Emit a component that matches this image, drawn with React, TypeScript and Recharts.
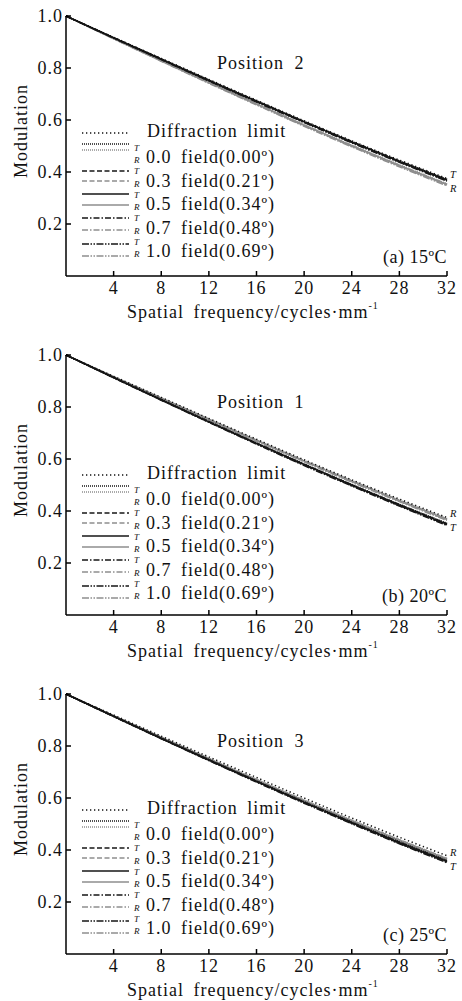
import { LineChart, Line, XAxis, YAxis } from "recharts";

const FONT = "'Liberation Serif', 'Times New Roman', serif";

// spatial frequency samples (cycles/mm)
const freq = [0, 4, 8, 12, 16, 20, 24, 28, 32];
const xTicks = [4, 8, 12, 16, 20, 24, 28, 32];
const yTicks = [0.2, 0.4, 0.6, 0.8, 1.0];

const fieldNames = ["0.0", "0.3", "0.5", "0.7", "1.0"];
const fieldAngles = ["0.00º", "0.21º", "0.34º", "0.48º", "0.69º"];

const positions = ["Position 2", "Position 1", "Position 3"];
const tags = ["(a) 15ºC", "(b) 20ºC", "(c) 25ºC"];
const endLabels = [["T", "R"], ["R", "T"], ["R", "T"]];

// (a) 15ºC
const diffA = [1.0, 0.918, 0.837, 0.756, 0.676, 0.597, 0.52, 0.446, 0.375];
const tA00 = [1.0, 0.917, 0.835, 0.754, 0.674, 0.595, 0.518, 0.443, 0.372];
const tA03 = [1.0, 0.917, 0.835, 0.753, 0.673, 0.594, 0.517, 0.442, 0.371];
const tA05 = [1.0, 0.916, 0.834, 0.752, 0.672, 0.593, 0.516, 0.441, 0.369];
const tA07 = [1.0, 0.916, 0.833, 0.751, 0.671, 0.592, 0.514, 0.439, 0.367];
const tA10 = [1.0, 0.915, 0.832, 0.75, 0.669, 0.59, 0.512, 0.437, 0.365];
const rA00 = [1.0, 0.914, 0.829, 0.745, 0.663, 0.582, 0.503, 0.428, 0.355];
const rA03 = [1.0, 0.914, 0.829, 0.745, 0.662, 0.581, 0.502, 0.426, 0.353];
const rA05 = [1.0, 0.913, 0.828, 0.744, 0.661, 0.58, 0.501, 0.425, 0.352];
const rA07 = [1.0, 0.913, 0.827, 0.743, 0.66, 0.578, 0.499, 0.423, 0.35];
const rA10 = [1.0, 0.912, 0.826, 0.741, 0.658, 0.576, 0.497, 0.42, 0.347];

// (b) 20ºC
const diffB = [1.0, 0.918, 0.837, 0.756, 0.676, 0.597, 0.52, 0.446, 0.375];
const tB00 = [1.0, 0.914, 0.829, 0.745, 0.662, 0.581, 0.502, 0.426, 0.353];
const tB03 = [1.0, 0.914, 0.828, 0.744, 0.661, 0.58, 0.501, 0.425, 0.351];
const tB05 = [1.0, 0.913, 0.828, 0.743, 0.66, 0.579, 0.5, 0.423, 0.349];
const tB07 = [1.0, 0.913, 0.827, 0.742, 0.659, 0.577, 0.498, 0.421, 0.347];
const tB10 = [1.0, 0.912, 0.826, 0.741, 0.657, 0.575, 0.496, 0.419, 0.344];
const rB00 = [1.0, 0.917, 0.835, 0.754, 0.673, 0.594, 0.517, 0.442, 0.371];
const rB03 = [1.0, 0.917, 0.834, 0.753, 0.672, 0.593, 0.516, 0.441, 0.369];
const rB05 = [1.0, 0.916, 0.834, 0.752, 0.671, 0.592, 0.515, 0.44, 0.368];
const rB07 = [1.0, 0.916, 0.833, 0.751, 0.67, 0.591, 0.513, 0.438, 0.366];
const rB10 = [1.0, 0.915, 0.832, 0.75, 0.669, 0.589, 0.511, 0.436, 0.364];

// (c) 25ºC
const diffC = [1.0, 0.919, 0.838, 0.758, 0.679, 0.6, 0.523, 0.449, 0.378];
const tC00 = [1.0, 0.915, 0.831, 0.748, 0.666, 0.586, 0.508, 0.432, 0.36];
const tC03 = [1.0, 0.915, 0.83, 0.747, 0.665, 0.584, 0.506, 0.43, 0.358];
const tC05 = [1.0, 0.914, 0.829, 0.746, 0.664, 0.583, 0.505, 0.428, 0.356];
const tC07 = [1.0, 0.914, 0.829, 0.745, 0.663, 0.582, 0.503, 0.426, 0.354];
const tC10 = [1.0, 0.913, 0.828, 0.744, 0.661, 0.58, 0.501, 0.424, 0.351];
const rC00 = [1.0, 0.917, 0.834, 0.752, 0.671, 0.592, 0.515, 0.44, 0.368];
const rC03 = [1.0, 0.916, 0.834, 0.752, 0.671, 0.591, 0.514, 0.439, 0.367];
const rC05 = [1.0, 0.916, 0.833, 0.751, 0.67, 0.59, 0.513, 0.438, 0.366];
const rC07 = [1.0, 0.916, 0.833, 0.75, 0.669, 0.589, 0.512, 0.436, 0.364];
const rC10 = [1.0, 0.915, 0.832, 0.749, 0.668, 0.588, 0.51, 0.434, 0.362];

const panels = [
  { diff: diffA, t: [tA00, tA03, tA05, tA07, tA10], r: [rA00, rA03, rA05, rA07, rA10] },
  { diff: diffB, t: [tB00, tB03, tB05, tB07, tB10], r: [rB00, rB03, rB05, rB07, rB10] },
  { diff: diffC, t: [tC00, tC03, tC05, tC07, tC10], r: [rC00, rC03, rC05, rC07, rC10] },
];

// line styles
const T_COLOR = "#161616";
const R_COLOR = "#8e8e8e";
const DIFF_DASH = "1.3 2.7";
const FIELD_DASH = ["1 1", "5 2.5", undefined, "6 2 1.5 2", "7 1.5 1.5 1.5 1.5 1.5"];

// legend layout (px inside each panel)
const LEG_T_Y = [144, 171, 194, 218, 244];
const LEG_R_Y = [150, 181, 205, 230, 256];
const LEG_TEXT_Y = [163, 186.5, 210, 233.5, 257];
const PANEL_SHIFT = [0, 3, -1];

const textStyle = { fontFamily: FONT, fontSize: 18, fill: "#111", letterSpacing: 1 };
const smallItalic = { fontFamily: FONT, fontStyle: "italic", fontSize: 10.5, fill: "#111" };
const tinyItalic = { fontFamily: FONT, fontStyle: "italic", fontSize: 9, fill: "#111" };

function Panel({ idx }: { idx: number }) {
  const p = panels[idx];
  const rows = freq.map((f, i) => {
    const row: Record<string, number> = { f, diff: p.diff[i] };
    p.t.forEach((s, k) => (row["t" + k] = s[i]));
    p.r.forEach((s, k) => (row["r" + k] = s[i]));
    return row;
  });
  const dy = PANEL_SHIFT[idx];

  return (
    <div style={{ position: "relative", width: 462, height: 339 }}>
      <LineChart width={462} height={330} data={rows} margin={{ top: 16, right: 15, left: 0, bottom: 0 }}>
        <XAxis
          dataKey="f"
          type="number"
          domain={[0, 32]}
          ticks={xTicks}
          interval={0}
          height={54}
          tickSize={-5}
          tickMargin={10}
          stroke="#000"
          strokeWidth={1.5}
          tick={{ ...textStyle }}
        />
        <YAxis
          type="number"
          domain={[0, 1]}
          ticks={yTicks}
          interval={0}
          width={66}
          tickSize={-5}
          tickMargin={8}
          stroke="#000"
          strokeWidth={1.5}
          tickFormatter={(v: number) => v.toFixed(1)}
          tick={{ ...textStyle }}
        />
        {p.r.map((_, k) => (
          <Line
            key={"r" + k}
            type="monotone"
            dataKey={"r" + k}
            stroke={R_COLOR}
            strokeWidth={1.5}
            strokeDasharray={FIELD_DASH[k]}
            dot={false}
            isAnimationActive={false}
          />
        ))}
        {p.t.map((_, k) => (
          <Line
            key={"t" + k}
            type="monotone"
            dataKey={"t" + k}
            stroke={T_COLOR}
            strokeWidth={1.5}
            strokeDasharray={FIELD_DASH[k]}
            dot={false}
            isAnimationActive={false}
          />
        ))}
        <Line
          type="monotone"
          dataKey="diff"
          stroke="#111"
          strokeWidth={1.5}
          strokeDasharray={DIFF_DASH}
          dot={false}
          isAnimationActive={false}
        />
      </LineChart>

      <svg
        width={462}
        height={339}
        style={{ position: "absolute", left: 0, top: 0, pointerEvents: "none", overflow: "visible" }}
      >
        <text transform="translate(27,131) rotate(-90)" textAnchor="middle" {...textStyle}>
          Modulation
        </text>
        <text x={253} y={318} textAnchor="middle" {...textStyle} wordSpacing={4}>
          Spatial frequency/cycles·mm
          <tspan fontSize={10} dy={-9}>-1</tspan>
        </text>
        <text x={217} y={69} {...textStyle} wordSpacing={5}>
          {positions[idx]}
        </text>
        <text x={447} y={263} textAnchor="end" {...textStyle} letterSpacing={0.5}>
          {tags[idx]}
        </text>

        {/* curve end labels */}
        <text {...smallItalic}>
          <tspan x={450} y={178}>{endLabels[idx][0]}</tspan>
          <tspan x={450} y={192}>{endLabels[idx][1]}</tspan>
        </text>

        {/* legend */}
        <line x1={82} x2={129} y1={133 + dy} y2={133 + dy} stroke="#111" strokeWidth={1.5} strokeDasharray={DIFF_DASH} />
        <text x={147} y={137 + dy} {...textStyle} wordSpacing={4}>
          Diffraction limit
        </text>
        {fieldNames.map((name, k) => (
          <g key={name}>
            <line x1={82} x2={129} y1={LEG_T_Y[k] + dy} y2={LEG_T_Y[k] + dy} stroke={T_COLOR} strokeWidth={1.5} strokeDasharray={FIELD_DASH[k]} />
            <line x1={82} x2={129} y1={LEG_R_Y[k] + dy} y2={LEG_R_Y[k] + dy} stroke={R_COLOR} strokeWidth={1.5} strokeDasharray={FIELD_DASH[k]} />
            <text x={134} y={LEG_TEXT_Y[k] - 12.5 + dy} {...tinyItalic}>T</text>
            <text x={134} y={LEG_TEXT_Y[k] + dy} {...tinyItalic}>R</text>
            <text x={146} y={LEG_TEXT_Y[k] + dy} {...textStyle} wordSpacing={4}>
              {name} field({fieldAngles[k]})
            </text>
          </g>
        ))}
      </svg>
    </div>
  );
}

export default function App() {
  return (
    <div style={{ position: "absolute", left: 0, top: 0, width: 462, height: 1001, background: "#fff" }}>
      <Panel idx={0} />
      <Panel idx={1} />
      <Panel idx={2} />
    </div>
  );
}
